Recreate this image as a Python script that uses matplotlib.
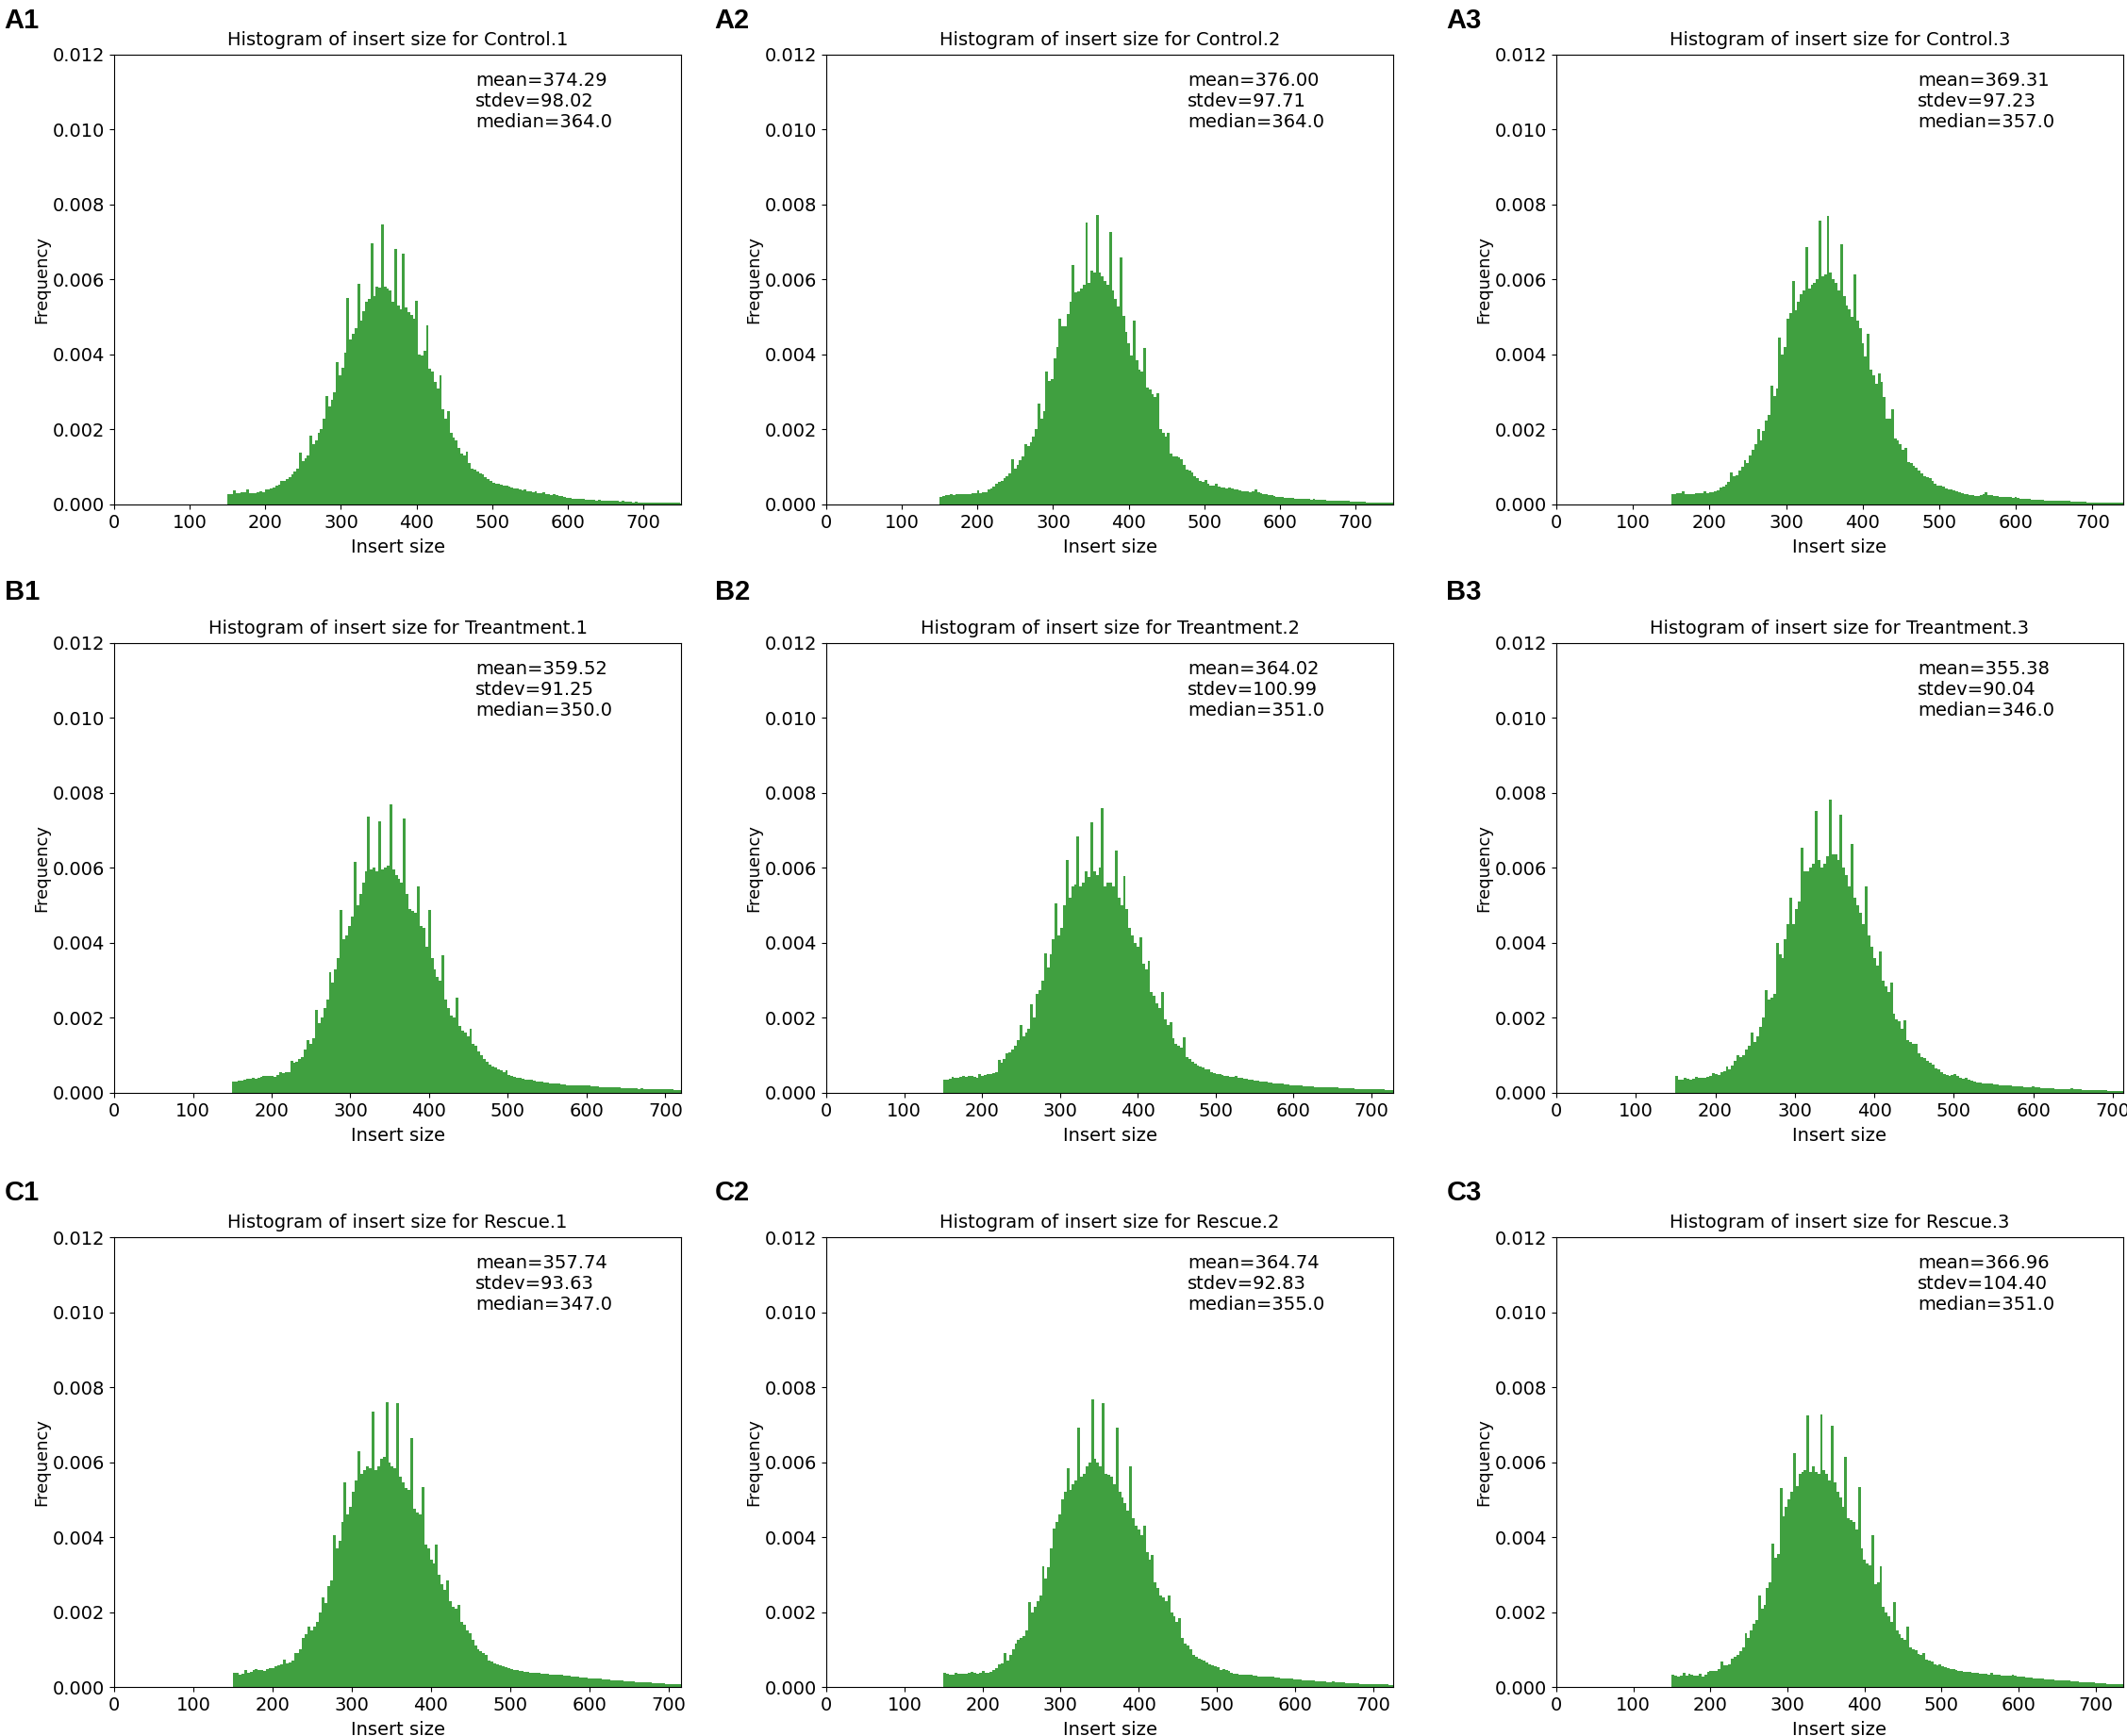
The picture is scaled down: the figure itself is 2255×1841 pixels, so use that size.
import matplotlib
matplotlib.use("Agg")
import matplotlib.pyplot as plt
import numpy as np

# Histogram bar heights, in units of 1e-5 (density).
# One value per bin; bins are 3.5 wide and start at insert size 150.
BIN_START = 150.0
BIN_WIDTH = 3.5
UNIT = 1e-5

control_1 = [
    27, 27, 37, 30, 31, 32, 33, 40, 29, 30,
    31, 32, 35, 33, 41, 40, 44, 46, 50, 53,
    63, 62, 68, 74, 80, 87, 95, 138, 115, 122,
    132, 184, 160, 172, 190, 200, 230, 289, 262, 280,
    300, 381, 345, 365, 405, 550, 440, 455, 470, 588,
    490, 515, 540, 548, 697, 555, 580, 578, 747, 580,
    575, 570, 540, 682, 530, 520, 668, 525, 512, 505,
    495, 543, 400, 398, 410, 478, 362, 355, 326, 310,
    345, 255, 228, 250, 192, 178, 170, 150, 135, 132,
    140, 110, 95, 93, 88, 84, 80, 72, 67, 62,
    58, 56, 55, 52, 50, 51, 47, 45, 44, 42,
    41, 38, 39, 36, 35, 33, 34, 31, 30, 32,
    28, 27, 26, 28, 24, 23, 22, 19, 18, 17,
    16, 15, 16, 14, 14, 13, 13, 12, 13, 11,
    12, 11, 10, 11, 10, 9, 10, 9, 8, 9,
    8, 7, 7, 6, 7, 6, 6, 5, 6, 5,
    5, 5, 4, 5, 4, 4, 4, 4, 4, 4,
    4, 3,
]
control_2 = [
    20, 22, 25, 24, 27, 26, 28, 27, 27, 28,
    28, 28, 29, 30, 37, 31, 32, 33, 40, 43,
    48, 55, 60, 63, 70, 76, 82, 121, 96, 105,
    118, 128, 162, 155, 165, 180, 200, 268, 230, 250,
    355, 330, 335, 390, 420, 496, 475, 475, 509, 540,
    639, 567, 569, 576, 585, 752, 591, 625, 620, 772,
    620, 610, 596, 585, 726, 572, 548, 528, 658, 504,
    461, 430, 398, 490, 384, 360, 355, 417, 311, 307,
    295, 287, 297, 202, 191, 181, 191, 135, 128, 128,
    126, 120, 105, 94, 90, 85, 75, 70, 63, 61,
    66, 55, 51, 50, 56, 48, 46, 45, 44, 46,
    42, 40, 39, 37, 35, 36, 34, 33, 35, 40,
    32, 30, 28, 27, 25, 26, 23, 21, 19, 19,
    18, 18, 17, 18, 16, 16, 15, 15, 14, 14,
    13, 14, 13, 12, 12, 13, 11, 11, 11, 10,
    10, 10, 10, 9, 9, 8, 8, 8, 7, 8,
    7, 6, 6, 6, 5, 6, 5, 5, 6, 5,
    6, 5,
]
control_3 = [
    28, 28, 30, 31, 35, 27, 28, 27, 28, 29,
    30, 30, 35, 31, 32, 33, 36, 38, 45, 48,
    52, 60, 85, 75, 78, 90, 100, 119, 110, 130,
    145, 160, 200, 172, 195, 225, 240, 318, 290, 310,
    446, 400, 420, 495, 510, 596, 519, 540, 560, 570,
    687, 575, 585, 590, 600, 758, 610, 615, 771, 620,
    600, 590, 570, 695, 555, 530, 520, 500, 615, 490,
    470, 430, 395, 456, 360, 345, 322, 350, 326, 287,
    229, 230, 255, 176, 170, 160, 147, 150, 114, 110,
    104, 97, 90, 82, 75, 72, 70, 62, 56, 51,
    50, 47, 44, 41, 40, 37, 36, 33, 30, 28,
    27, 26, 24, 23, 22, 24, 27, 32, 26, 24,
    22, 22, 21, 20, 20, 19, 19, 18, 19, 17,
    16, 15, 15, 14, 13, 13, 12, 12, 12, 11,
    11, 11, 11, 10, 10, 10, 9, 9, 9, 8,
    8, 8, 7, 7, 7, 6, 6, 6, 6, 6,
    5, 5, 5, 5, 5, 5, 4, 5, 4,
]
treatment_1 = [
    30, 31, 32, 33, 35, 38, 38, 40, 38, 40,
    42, 45, 44, 46, 46, 42, 48, 55, 52, 55,
    56, 85, 80, 82, 90, 95, 115, 140, 130, 145,
    222, 185, 200, 225, 250, 323, 294, 330, 360, 487,
    410, 420, 445, 470, 617, 500, 530, 560, 590, 737,
    595, 600, 590, 725, 595, 600, 605, 769, 595, 580,
    570, 560, 733, 530, 490, 485, 480, 551, 445, 440,
    390, 487, 360, 330, 310, 300, 368, 250, 225, 205,
    200, 255, 178, 165, 160, 150, 170, 130, 125, 110,
    100, 90, 82, 75, 70, 68, 62, 60, 55, 60,
    48, 45, 43, 41, 39, 38, 36, 35, 34, 33,
    31, 30, 29, 28, 27, 26, 25, 24, 24, 23,
    22, 21, 21, 20, 20, 19, 19, 19, 20, 21,
    18, 17, 17, 16, 16, 15, 15, 15, 14, 14,
    14, 13, 13, 13, 12, 12, 12, 11, 12, 11,
    11, 10, 10, 10, 10, 9, 9, 10, 9, 9,
    8, 8, 8,
]
treatment_2 = [
    34, 36, 37, 42, 40, 41, 43, 45, 42, 44,
    45, 42, 40, 50, 45, 48, 50, 50, 52, 56,
    87, 80, 90, 106, 108, 115, 125, 140, 181, 150,
    160, 170, 236, 200, 265, 275, 300, 371, 335, 370,
    410, 506, 420, 440, 500, 622, 520, 550, 555, 684,
    550, 560, 590, 575, 723, 590, 580, 600, 760, 550,
    560, 560, 550, 646, 520, 500, 578, 490, 440, 420,
    400, 390, 415, 345, 330, 352, 270, 260, 240, 225,
    270, 195, 180, 188, 145, 130, 125, 120, 149, 95,
    90, 82, 78, 72, 70, 68, 62, 62, 56, 52,
    50, 49, 47, 45, 44, 42, 42, 45, 40, 39,
    38, 37, 35, 35, 33, 32, 31, 30, 29, 28,
    27, 26, 25, 24, 24, 23, 22, 21, 20, 20,
    19, 19, 18, 18, 17, 17, 16, 16, 16, 15,
    15, 15, 14, 14, 14, 13, 13, 13, 12, 12,
    12, 11, 11, 11, 10, 10, 10, 10, 9, 9,
    9, 9, 8, 8, 8, 10,
]
treatment_3 = [
    45, 35, 36, 40, 37, 34, 37, 42, 40, 40,
    40, 42, 46, 52, 50, 48, 55, 58, 69, 62,
    72, 85, 101, 95, 100, 115, 125, 161, 135, 150,
    175, 200, 275, 250, 255, 265, 400, 370, 360, 410,
    450, 520, 450, 490, 510, 655, 590, 590, 600, 610,
    752, 620, 600, 610, 630, 783, 635, 635, 620, 742,
    600, 580, 550, 665, 520, 500, 480, 450, 550, 420,
    390, 360, 340, 376, 300, 285, 270, 294, 210, 195,
    190, 170, 193, 140, 135, 130, 131, 105, 95, 92,
    85, 80, 75, 65, 62, 55, 50, 48, 45, 48,
    50, 44, 40, 38, 40, 34, 32, 30, 28, 27,
    26, 25, 24, 24, 23, 22, 21, 21, 20, 19,
    19, 18, 18, 17, 17, 16, 15, 15, 17, 16,
    14, 13, 13, 12, 12, 12, 11, 11, 11, 10,
    10, 10, 12, 9, 9, 9, 8, 8, 8, 8,
    7, 7, 7, 7, 7, 6, 6, 6, 6, 6,
    5,
]
rescue_1 = [
    38, 37, 33, 35, 45, 38, 40, 45, 48, 45,
    45, 42, 48, 50, 50, 55, 58, 60, 72, 62,
    65, 70, 91, 90, 100, 130, 140, 161, 150, 160,
    175, 200, 240, 225, 270, 285, 404, 370, 390, 440,
    546, 460, 480, 520, 550, 629, 570, 580, 590, 585,
    735, 580, 590, 610, 615, 759, 600, 590, 585, 757,
    560, 545, 530, 525, 664, 475, 465, 460, 534, 380,
    370, 340, 330, 381, 300, 275, 260, 285, 230, 215,
    210, 220, 175, 165, 150, 144, 125, 110, 100, 95,
    90, 85, 70, 68, 62, 60, 58, 55, 52, 50,
    48, 46, 45, 44, 42, 41, 40, 39, 38, 38,
    37, 36, 35, 35, 34, 33, 33, 32, 32, 31,
    30, 30, 29, 28, 27, 26, 26, 25, 24, 24,
    23, 22, 22, 21, 20, 20, 19, 18, 18, 17,
    17, 16, 16, 15, 15, 14, 14, 13, 13, 12,
    12, 11, 11, 10, 10, 10, 9, 9, 9, 8,
    8, 8,
]
rescue_2 = [
    37, 35, 33, 34, 38, 35, 36, 35, 35, 38,
    40, 37, 36, 37, 42, 38, 39, 40, 45, 50,
    60, 62, 91, 70, 85, 100, 115, 125, 130, 135,
    150, 227, 200, 215, 230, 245, 323, 290, 320, 370,
    423, 440, 460, 500, 520, 584, 525, 540, 550, 692,
    560, 570, 590, 600, 768, 610, 600, 590, 757, 570,
    565, 560, 540, 692, 520, 505, 490, 470, 589, 450,
    430, 420, 405, 431, 360, 340, 353, 280, 265, 245,
    240, 230, 244, 200, 190, 175, 184, 130, 115, 110,
    100, 85, 80, 75, 72, 70, 65, 60, 58, 55,
    52, 45, 48, 45, 42, 38, 36, 35, 34, 33,
    34, 33, 32, 31, 30, 29, 29, 28, 28, 27,
    28, 26, 25, 24, 24, 23, 22, 22, 21, 21,
    20, 19, 19, 18, 18, 17, 16, 16, 15, 15,
    14, 14, 15, 13, 13, 12, 12, 11, 11, 10,
    10, 10, 9, 9, 9, 8, 8, 8, 8, 7,
    7, 7, 7, 6, 6,
]
rescue_3 = [
    33, 30, 28, 30, 38, 30, 35, 32, 30, 31,
    36, 28, 32, 40, 42, 42, 44, 48, 67, 57,
    57, 60, 75, 80, 85, 95, 105, 144, 130, 150,
    170, 180, 244, 210, 220, 265, 280, 383, 345, 355,
    532, 455, 480, 500, 520, 625, 535, 570, 575, 580,
    725, 575, 590, 575, 570, 728, 580, 570, 550, 697,
    545, 520, 505, 480, 613, 450, 445, 440, 420, 534,
    370, 340, 330, 325, 404, 275, 280, 323, 215, 200,
    190, 175, 227, 150, 140, 130, 125, 160, 105, 100,
    98, 88, 85, 90, 72, 70, 68, 60, 58, 60,
    55, 52, 50, 48, 47, 45, 44, 42, 41, 40,
    40, 39, 38, 37, 36, 35, 35, 34, 38, 33,
    32, 32, 31, 31, 30, 30, 33, 30, 29, 28,
    27, 26, 26, 25, 24, 23, 23, 22, 21, 21,
    20, 20, 19, 19, 18, 18, 17, 17, 16, 16,
    15, 14, 14, 13, 13, 12, 12, 11, 11, 10,
    10, 9, 9, 9, 8, 8, 8, 8,
]

samples = ["Control.1", "Control.2", "Control.3",
           "Treantment.1", "Treantment.2", "Treantment.3",
           "Rescue.1", "Rescue.2", "Rescue.3"]
panel_tags = ["A1", "A2", "A3", "B1", "B2", "B3", "C1", "C2", "C3"]
heights = [control_1, control_2, control_3,
           treatment_1, treatment_2, treatment_3,
           rescue_1, rescue_2, rescue_3]
means = [374.29, 376.00, 369.31, 359.52, 364.02, 355.38, 357.74, 364.74, 366.96]
stdevs = [98.02, 97.71, 97.23, 91.25, 100.99, 90.04, 93.63, 92.83, 104.40]
medians = [364.0, 364.0, 357.0, 350.0, 351.0, 346.0, 347.0, 355.0, 351.0]
x_max = [750, 750, 740, 720, 728, 713, 716, 726, 736]

plt.rcParams["font.family"] = ["DejaVu Sans"]
FS = 14

fig = plt.figure(figsize=(22.55, 18.41), dpi=100)

col_left = [0.0537, 0.3885, 0.7317]
row_bottom = [0.7094, 0.3705, 0.0282]
ax_w, ax_h = 0.2665, 0.2591
tag_x = [0.002, 0.336, 0.680]
tag_y = [0.988, 0.659, 0.313]

for i in range(9):
    r, c = divmod(i, 3)
    ax = fig.add_axes([col_left[c], row_bottom[r], ax_w, ax_h])
    vals = np.array(heights[i]) * UNIT
    edges = BIN_START + BIN_WIDTH * np.arange(len(vals) + 1)
    centers = 0.5 * (edges[:-1] + edges[1:])
    ax.hist(centers, bins=edges, weights=vals, histtype="stepfilled",
            color="green", alpha=0.75, linewidth=0)
    ax.set_xlim(0, x_max[i])
    ax.set_ylim(0, 0.012)
    ax.set_yticks(np.arange(0, 0.0121, 0.002))
    ax.set_xticks(np.arange(0, 701, 100))
    ax.tick_params(labelsize=FS)
    ax.set_title("Histogram of insert size for " + samples[i], fontsize=FS, pad=7)
    ax.set_xlabel("Insert size", fontsize=FS, labelpad=5)
    ax.set_ylabel("Frequency", fontsize=13, labelpad=2)
    ax.text(0.637, 0.962,
            "mean=%.2f\nstdev=%.2f\nmedian=%.1f" % (means[i], stdevs[i], medians[i]),
            transform=ax.transAxes, ha="left", va="top", fontsize=FS,
            linespacing=1.2)
    fig.text(tag_x[c], tag_y[r], panel_tags[i], fontsize=21, fontweight="bold",
             family=["Liberation Sans", "DejaVu Sans"], ha="left", va="center")

fig.savefig("out.png", dpi=100)
